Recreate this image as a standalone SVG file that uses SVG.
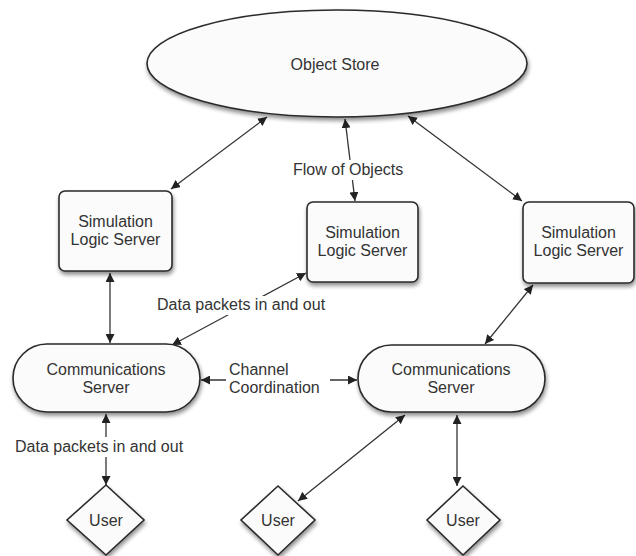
<svg xmlns="http://www.w3.org/2000/svg" width="636" height="556" viewBox="0 0 636 556">
<style>
  .node { fill: #fbfbfb; stroke: #2a2a2a; stroke-width: 1.6; filter: url(#shadow); }
  .t { font-family: "Liberation Sans", Arial, sans-serif; font-size: 16px; fill: #333; text-anchor: middle; }
  .lbl { font-family: "Liberation Sans", Arial, sans-serif; font-size: 16px; fill: #333; }
  .bg { fill: #fff; }
  .edge { fill: none; stroke: #333; stroke-width: 1.3; marker-start: url(#arr); marker-end: url(#arr); }
</style>
<defs>
  <marker id="arr" viewBox="0 0 10 10" refX="10" refY="5" markerWidth="9" markerHeight="9" markerUnits="userSpaceOnUse" orient="auto-start-reverse">
    <path d="M0,0 L10,5 L0,10 z" fill="#222"/>
  </marker>
  <filter id="shadow" x="-10%" y="-10%" width="125%" height="130%">
    <feGaussianBlur in="SourceAlpha" stdDeviation="2"/>
    <feOffset dx="1" dy="3" result="b"/>
    <feComponentTransfer><feFuncA type="linear" slope="0.45"/></feComponentTransfer>
    <feMerge><feMergeNode/><feMergeNode in="SourceGraphic"/></feMerge>
  </filter>
</defs>
<rect width="636" height="556" fill="#fff"/>

<g id="connectors">
  <line class="edge" x1="267" y1="117" x2="171" y2="189"/>
  <line class="edge" x1="345" y1="119" x2="355" y2="201"/>
  <line class="edge" x1="408" y1="116" x2="522" y2="201"/>
  <line class="edge" x1="110" y1="273" x2="110" y2="343"/>
  <line class="edge" x1="306" y1="273" x2="172" y2="345"/>
  <line class="edge" x1="533" y1="285" x2="485" y2="344"/>
  <line class="edge" x1="201" y1="380" x2="357" y2="380"/>
  <line class="edge" x1="106" y1="414" x2="106" y2="485"/>
  <line class="edge" x1="405" y1="415" x2="298" y2="501"/>
  <line class="edge" x1="457" y1="415" x2="457" y2="486"/>
  <rect class="bg" x="290" y="160" width="119" height="20"/>
  <rect class="bg" x="154" y="296" width="180" height="19"/>
  <rect class="bg" x="226" y="359" width="104" height="40"/>
  <rect class="bg" x="12" y="437" width="180" height="20"/>
  <text class="lbl" x="293" y="175">Flow of Objects</text>
  <text class="lbl" x="157" y="310">Data packets in and out</text>
  <text class="lbl" x="229" y="375">Channel</text>
  <text class="lbl" x="229" y="393">Coordination</text>
  <text class="lbl" x="15" y="452">Data packets in and out</text>
</g>

<g id="object-store">
  <ellipse class="node" cx="337" cy="63.5" rx="190" ry="53.5"/>
  <text class="t" x="335" y="70">Object Store</text>
</g>

<g id="sls-left">
  <rect class="node" x="59" y="191" width="113" height="80" rx="6"/>
  <text class="t" x="115.5" y="227">Simulation</text>
  <text class="t" x="115.5" y="245">Logic Server</text>
</g>

<g id="sls-middle">
  <rect class="node" x="307" y="202" width="111" height="80" rx="6"/>
  <text class="t" x="362.5" y="238">Simulation</text>
  <text class="t" x="362.5" y="256">Logic Server</text>
</g>

<g id="sls-right">
  <rect class="node" x="523" y="202" width="111" height="81" rx="6"/>
  <text class="t" x="578.5" y="238">Simulation</text>
  <text class="t" x="578.5" y="256">Logic Server</text>
</g>

<g id="comm-left">
  <rect class="node" x="13" y="344" width="187" height="68" rx="34"/>
  <text class="t" x="106" y="375">Communications</text>
  <text class="t" x="106" y="393">Server</text>
</g>

<g id="comm-right">
  <rect class="node" x="358" y="345" width="187" height="67" rx="33.5"/>
  <text class="t" x="451" y="375">Communications</text>
  <text class="t" x="451" y="393">Server</text>
</g>

<g id="user-left">
  <polygon class="node" points="106,485 144,520 106,555 67,520"/>
  <text class="t" x="106" y="526">User</text>
</g>

<g id="user-middle">
  <polygon class="node" points="278,486 315,520 278,555 241,520"/>
  <text class="t" x="278" y="526">User</text>
</g>

<g id="user-right">
  <polygon class="node" points="463,486 500,520 463,555 427,520"/>
  <text class="t" x="463" y="526">User</text>
</g>
</svg>
